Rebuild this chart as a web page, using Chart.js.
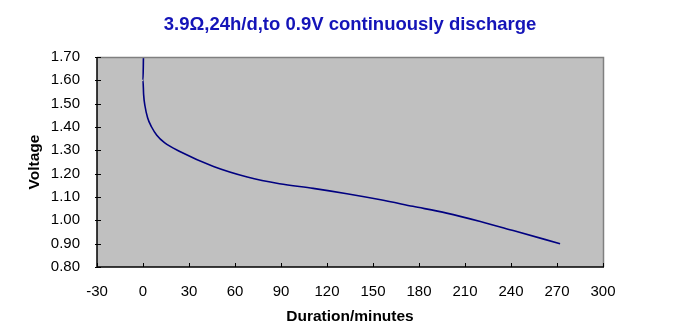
<!DOCTYPE html>
<html>
<head>
<meta charset="utf-8">
<script src="https://cdn.jsdelivr.net/npm/chart.js@4/dist/chart.umd.min.js"></script>
<style>
  html, body { margin: 0; padding: 0; background: #fff; }
  #wrap { width: 673px; height: 332px; }
</style>
</head>
<body>
<div id="wrap"><canvas id="dischargeChart" width="673" height="332"></canvas></div>
<script>
// discharge curve (minutes, volts)
const minutes = [0.3, 0, 0.4, 1.3, 3, 5.6, 9, 14, 24, 46, 68, 89, 111, 133, 155, 176, 198, 220, 242, 272];
const volts = [1.70, 1.60, 1.54, 1.49, 1.44, 1.40, 1.365, 1.333, 1.295, 1.231, 1.186, 1.157, 1.137, 1.114, 1.088, 1.060, 1.031, 0.995, 0.955, 0.90];
const xTicks = [-30, 0, 30, 60, 90, 120, 150, 180, 210, 240, 270, 300];
const yTicks = [0.8, 0.9, 1.0, 1.1, 1.2, 1.3, 1.4, 1.5, 1.6, 1.7];

const font = { family: "'Liberation Sans', Arial, sans-serif", size: 15 };
const boldFont = { family: font.family, size: 15.5, weight: 'bold' };

// grey plot area, excel style frame and inward tick marks
const plotFrame = {
  id: 'plotFrame',
  beforeDatasetsDraw(chart) {
    const { ctx, chartArea: a } = chart;
    ctx.save();
    ctx.fillStyle = '#c0c0c0';
    ctx.fillRect(a.left, a.top, a.right - a.left, a.bottom - a.top);
    ctx.restore();
  },
  afterDatasetsDraw(chart) {
    const { ctx, chartArea: a, scales } = chart;
    ctx.save();
    ctx.lineWidth = 1.5;
    ctx.strokeStyle = '#808080';
    ctx.beginPath();
    ctx.moveTo(a.left, a.top + 0.5);
    ctx.lineTo(a.right + 0.5, a.top + 0.5);
    ctx.lineTo(a.right + 0.5, a.bottom);
    ctx.stroke();
    ctx.strokeStyle = '#000';
    ctx.beginPath();
    ctx.moveTo(a.left, a.top);
    ctx.lineTo(a.left, a.bottom);
    ctx.lineTo(a.right + 1, a.bottom);
    ctx.stroke();
    ctx.lineWidth = 1;
    ctx.beginPath();
    xTicks.forEach(v => {
      const x = Math.round(scales.x.getPixelForValue(v)) + 0.5;
      ctx.moveTo(x, a.bottom);
      ctx.lineTo(x, a.bottom - 4);
    });
    yTicks.forEach(v => {
      const y = Math.round(scales.y.getPixelForValue(v)) + 0.5;
      ctx.moveTo(a.left - 2, y);
      ctx.lineTo(a.left + 4, y);
    });
    ctx.stroke();
    ctx.restore();
  }
};

new Chart(document.getElementById('dischargeChart'), {
  type: 'line',
  data: {
    datasets: [{
      label: 'Voltage',
      data: minutes.map((m, i) => ({ x: m, y: volts[i] })),
      borderColor: '#000080',
      borderWidth: 1.6,
      pointRadius: 0,
      fill: false,
      cubicInterpolationMode: 'monotone'
    }]
  },
  options: {
    responsive: false,
    animation: false,
    layout: { padding: { left: 0, right: 70, top: 0, bottom: 0 } },
    plugins: {
      legend: { display: false },
      tooltip: { enabled: false },
      title: {
        display: true,
        fullSize: false,
        text: '3.9\u03A9,24h/d,to 0.9V continuously discharge',
        color: '#1414b8',
        font: { family: font.family, size: 18.5, weight: 'bold' },
        padding: { top: 14, bottom: 20.8 }
      }
    },
    scales: {
      x: {
        type: 'linear',
        min: -30,
        max: 300,
        afterBuildTicks: s => { s.ticks = xTicks.map(v => ({ value: v })); },
        afterFit: s => { s.height = 65; },
        grid: { display: false, drawTicks: false },
        border: { display: false },
        ticks: { color: '#000', font, padding: 16, maxRotation: 0, autoSkip: false },
        title: { display: true, text: 'Duration/minutes', color: '#000', font: boldFont, padding: { top: 0, bottom: 5.7 } }
      },
      y: {
        type: 'linear',
        min: 0.8,
        max: 1.7,
        afterBuildTicks: s => { s.ticks = yTicks.map(v => ({ value: v })); },
        afterFit: s => { s.width = 97; },
        grid: { display: false, drawTicks: false },
        border: { display: false },
        ticks: { color: '#000', font, padding: 17, callback: v => v.toFixed(2) },
        title: { display: true, text: 'Voltage', color: '#000', font: boldFont, padding: { top: 25.7, bottom: 0 } }
      }
    }
  },
  plugins: [plotFrame]
});
</script>
</body>
</html>
